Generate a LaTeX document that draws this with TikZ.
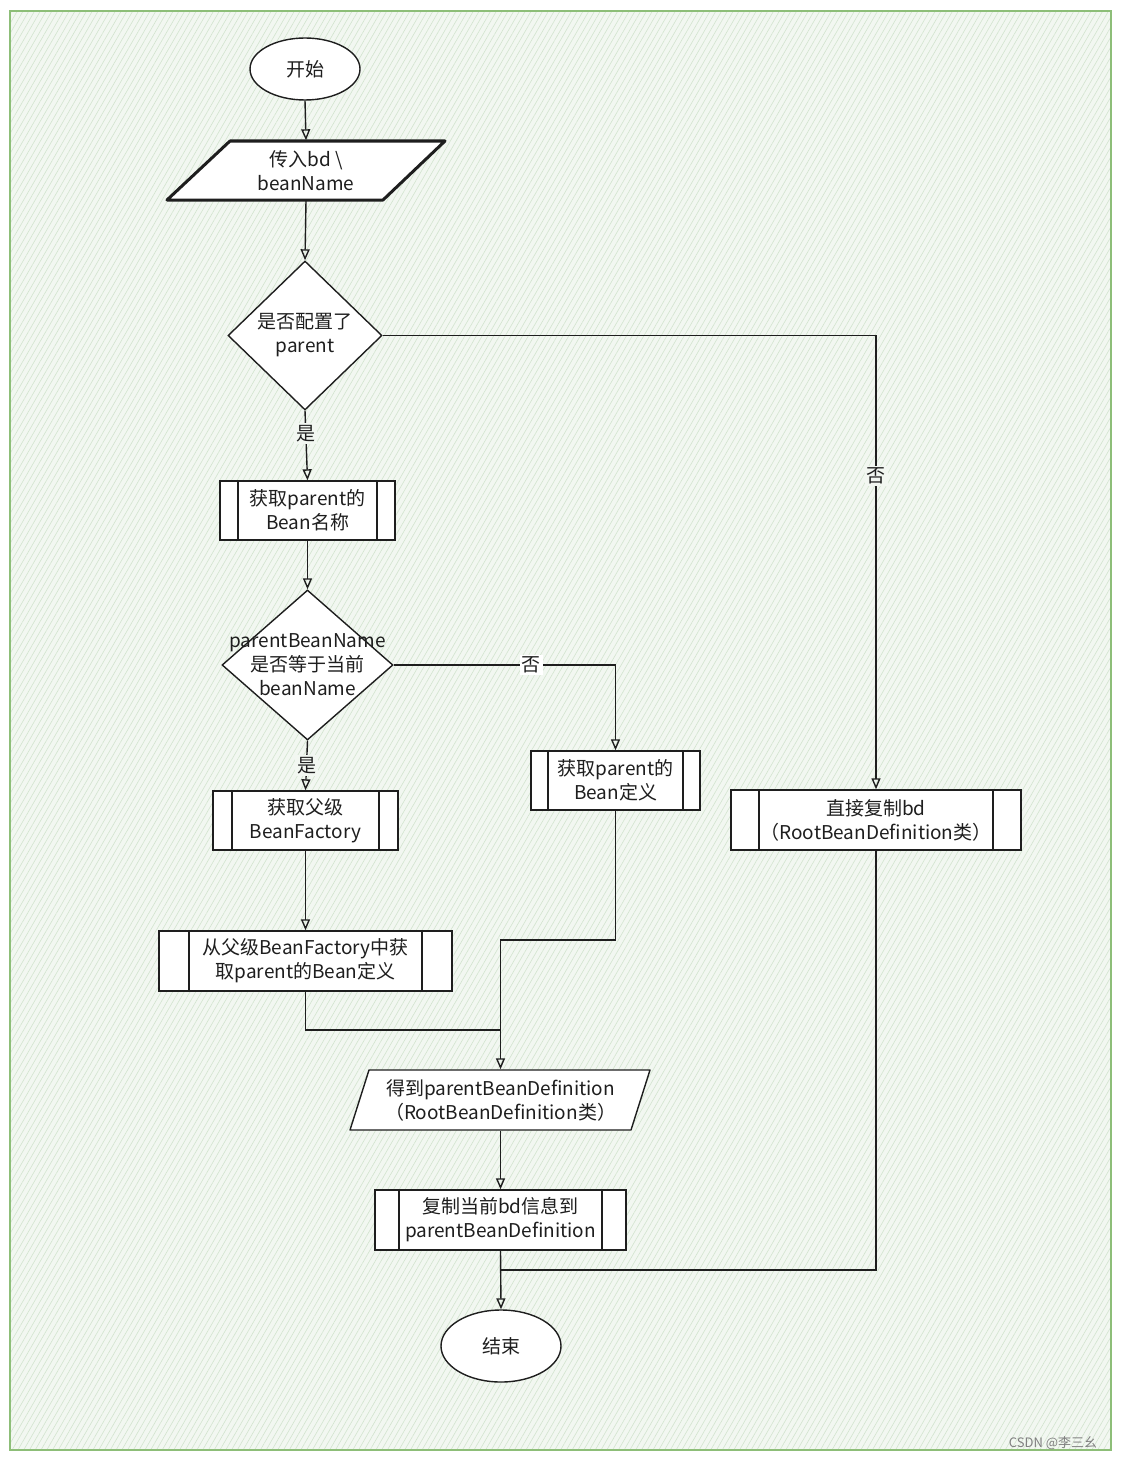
\documentclass[tikz,border=0pt]{standalone}
\usepackage{fontspec}
\setmainfont{Noto Sans CJK SC}
\usetikzlibrary{arrows.meta,shapes.geometric,calc,patterns.meta}
\definecolor{bgc}{HTML}{F2F7F1}
\definecolor{hatch}{HTML}{D2E4CE}
\definecolor{framec}{HTML}{8DBE78}
\definecolor{ink}{HTML}{1E1E1E}
\begin{document}
\begin{tikzpicture}[x=1pt,y=-1pt,
  font=\fontsize{19}{24}\selectfont,
  line width=1.4pt, draw=ink, text=ink,
  arr/.style={-{Triangle[open,length=11pt,width=9pt]}},
  txt/.style={align=center, inner sep=0pt},
  proc/.style={draw=ink, fill=white, align=center, inner sep=0pt,
    path picture={\draw[line width=1.4pt,ink]
      ([xshift=#1]path picture bounding box.north west) -- ([xshift=#1]path picture bounding box.south west)
      ([xshift=-#1]path picture bounding box.north east) -- ([xshift=-#1]path picture bounding box.south east);}},
  proc/.default=18pt,
  dec/.style={diamond, draw=ink, fill=white, inner sep=0pt},
  term/.style={ellipse, draw=ink, fill=white, inner sep=0pt},
  lab/.style={fill=bgc, inner sep=2pt}
]
\useasboundingbox (0,0) rectangle (1121,1461);
% background
\path[fill=bgc] (10,11) rectangle (1111,1450);
\path[pattern={Lines[angle=60,distance=5pt,line width=0.6pt]}, pattern color=hatch] (10,11) rectangle (1111,1450);
\draw[framec, line width=1.5pt] (10,11) rectangle (1111,1450);

% start
\node[term, minimum width=110, minimum height=62] (start) at (305,69) {开始};

% input parallelogram
\draw[line width=3pt, fill=white, line join=round] (230,141) -- (445,141) -- (383,200) -- (167,200) -- cycle;
\node[txt, minimum width=150, minimum height=59] (in) at (306,170.5) {传入bd \textbackslash\\beanName};

% decision 1
\node[dec, minimum width=154, minimum height=149] (d1) at (305,335.5) {};
\node[txt] (d1t) at (d1.center) {是否配置了\\parent};

% box 1
\node[proc, minimum width=175, minimum height=59] (b1) at (307.5,510.5) {获取parent的\\Bean名称};

% decision 2
\node[dec, minimum width=171, minimum height=150] (d2) at (307.5,665) {};
\node[txt] (d2t) at (d2.center) {parentBeanName\\是否等于当前\\beanName};

% box get parent bean definition
\node[proc=17pt, minimum width=169, minimum height=59] (b3) at (615.5,780.5) {获取parent的\\Bean定义};

% box get parent bean factory
\node[proc=19pt, minimum width=185, minimum height=59] (b2) at (305.5,820.5) {获取父级\\BeanFactory};

% right box
\node[proc=28pt, minimum width=290, minimum height=60] (rb) at (876,820) {直接复制bd\\（RootBeanDefinition类）};

% box from parent factory
\node[proc=30pt, minimum width=293, minimum height=60] (b4) at (305.5,961) {从父级BeanFactory中获\\取parent的Bean定义};

% parallelogram 2
\draw[fill=white, line join=round] (369,1070) -- (650,1070) -- (631,1130) -- (350,1130) -- cycle;
\node[txt, minimum width=250, minimum height=60] (p2) at (500.5,1100) {得到parentBeanDefinition\\（RootBeanDefinition类）};

% box copy
\node[proc=24pt, minimum width=251, minimum height=60] (b5) at (500.5,1220) {复制当前bd信息到\\parentBeanDefinition};

% end
\node[term, minimum width=120, minimum height=72] (end) at (501,1346) {结束};

% junction coordinates
\coordinate (j1) at (500.5,1030);
\coordinate (j2) at (500.5,940);
\coordinate (j3) at (500.5,1270);

% connectors
\draw[arr] (start.south) -- (in.north);
\draw[arr] (in.south) -- (d1.north);
\draw[arr] (d1.south) -- node[lab, pos=0.33] (l1) {是} (b1.north);
\draw[arr] (d1.east) -| node[lab, pos=0.655] (l2) {否} (rb.north);
\draw[arr] (b1.south) -- (d2.north);
\draw[arr] (d2.east) -| node[lab, pos=0.31, fill=white] (l3) {否} (b3.north);
\draw[arr] (d2.south) -- node[lab, pos=0.5] (l4) {是} (b2.north);
\draw[arr] (b2.south) -- (b4.north);
\draw (b4.south) |- (j1);
\draw[arr] (b3.south) -- (b3.south |- j2) -- (j2) -- (p2.north);
\draw[arr] (p2.south) -- (b5.north);
\draw[arr] (b5.south) -- (end.north);
\draw (rb.south) |- (j3);

% watermark
\node[text=gray, font=\fontsize{13}{13}\selectfont, inner sep=0pt] (wm) at (1053,1443) {CSDN @李三幺};
\end{tikzpicture}
\end{document}
